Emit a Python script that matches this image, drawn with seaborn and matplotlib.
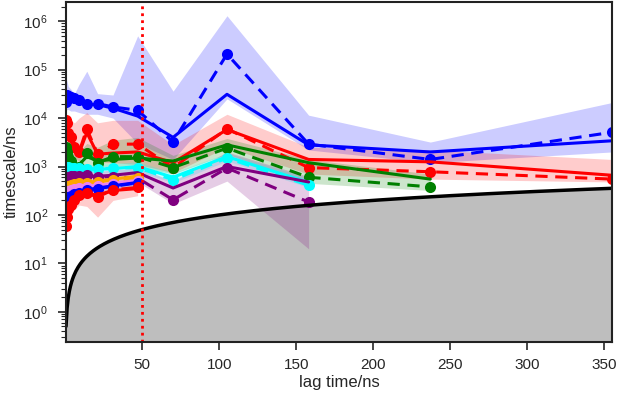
import numpy as np
import seaborn as sns
import matplotlib.pyplot as plt

# lag times (ns)
lags = [0.5, 1, 2, 3.5, 6, 9, 14, 21, 31, 47, 70, 105, 158, 237, 355]
colors = ['blue', 'red', 'green', 'cyan', 'purple', 'orange', 'violet', 'blue', 'red']
yticks = [1e0, 1e1, 1e2, 1e3, 1e4, 1e5, 1e6]
xticks = [50, 100, 150, 200, 250, 300, 350]

# process 1 (blue)
ml1 = [2.2e4, 3.0e4, 2.8e4, 2.7e4, 2.6e4, 2.4e4, 2.0e4, 2.0e4, 1.7e4, 1.45e4, 3.2e3, 2.1e5, 2.9e3, 1.4e3, 5.1e3]
mean1 = [2.0e4, 2.6e4, 2.5e4, 2.4e4, 2.3e4, 2.2e4, 1.9e4, 1.9e4, 1.6e4, 1.1e4, 4.0e3, 3.1e4, 2.8e3, 2.0e3, 3.4e3]
hi1 = [6.5e4, 6.0e4, 4.5e4, 4.0e4, 3.2e4, 5.0e4, 9.3e4, 3.2e4, 3.0e4, 5.0e5, 3.6e4, 1.3e6, 1.15e4, 3.2e3, 2.1e4]
lo1 = [1.3e4, 1.5e4, 1.5e4, 1.4e4, 1.4e4, 1.3e4, 1.2e4, 1.2e4, 1.0e4, 3.0e3, 1.4e3, 2.5e4, 2.2e3, 1.2e3, 2.0e3]

# process 2 (red)
ml2 = [9.0e3, 8.0e3, 5.0e3, 4.0e3, 2.5e3, 2.0e3, 6.0e3, 1.8e3, 2.9e3, 2.9e3, 9.5e2, 6.0e3, 9.5e2, 7.8e2, 5.5e2]
mean2 = [8.0e3, 7.0e3, 4.5e3, 3.5e3, 2.3e3, 1.9e3, 5.0e3, 1.8e3, 1.9e3, 2.0e3, 1.2e3, 5.8e3, 1.4e3, 1.25e3, 6.6e2]
hi2 = [1.2e4, 1.1e4, 1.0e4, 9.0e3, 8.0e3, 1.0e4, 1.3e4, 8.0e3, 9.0e3, 9.0e3, 2.8e3, 1.2e4, 2.5e3, 2.2e3, 1.4e3]
lo2 = [4.0e3, 3.5e3, 2.5e3, 2.0e3, 1.5e3, 1.3e3, 2.5e3, 1.2e3, 1.2e3, 1.1e3, 7.5e2, 2.5e3, 7.0e2, 5.5e2, 4.8e2]

# process 3 (green)
ml3 = [2.5e3, 2.0e3, 1.6e3, 1.3e3, 1.0e3, 1.0e3, 1.9e3, 1.2e3, 1.6e3, 1.6e3, 9.5e2, 2.4e3, 6.0e2, 3.8e2]
mean3 = [2.2e3, 1.8e3, 1.5e3, 1.3e3, 1.1e3, 1.1e3, 1.6e3, 1.3e3, 1.4e3, 1.5e3, 1.3e3, 2.8e3, 1.2e3, 5.5e2]
hi3 = [3.5e3, 3.0e3, 2.5e3, 2.2e3, 2.0e3, 2.0e3, 3.0e3, 2.5e3, 3.5e3, 4.0e3, 1.7e3, 3.8e3, 1.4e3, 7.0e2]
lo3 = [1.5e3, 1.2e3, 1.0e3, 9.0e2, 8.0e2, 8.0e2, 1.1e3, 9.0e2, 1.0e3, 1.0e3, 7.0e2, 1.8e3, 4.5e2, 3.2e2]

# process 4 (cyan)
ml4 = [1.0e3, 1.0e3, 9.7e2, 9.5e2, 9.3e2, 9.2e2, 9.0e2, 9.0e2, 9.2e2, 9.5e2, 5.3e2, 1.5e3, 4.1e2]
mean4 = [9.5e2, 9.5e2, 9.3e2, 9.2e2, 9.0e2, 8.9e2, 8.8e2, 8.8e2, 9.0e2, 1.0e3, 6.0e2, 1.6e3, 4.7e2]
hi4 = [1.2e3, 1.2e3, 1.15e3, 1.15e3, 1.1e3, 1.1e3, 1.1e3, 1.1e3, 1.15e3, 1.25e3, 7.5e2, 1.9e3, 5.8e2]
lo4 = [8.0e2, 8.0e2, 7.8e2, 7.7e2, 7.5e2, 7.4e2, 7.3e2, 7.3e2, 7.5e2, 8.0e2, 4.6e2, 1.3e3, 3.7e2]

# process 5 (purple)
ml5 = [5.5e2, 5.6e2, 6.0e2, 6.3e2, 6.5e2, 6.5e2, 6.7e2, 6.0e2, 6.2e2, 5.8e2, 2.05e2, 9.3e2, 1.85e2]
mean5 = [5.0e2, 5.2e2, 5.5e2, 5.8e2, 6.0e2, 6.2e2, 6.3e2, 6.3e2, 6.6e2, 7.5e2, 3.6e2, 1.0e3, 4.8e2]
hi5 = [6.5e2, 6.6e2, 7.0e2, 7.4e2, 7.6e2, 7.7e2, 8.0e2, 8.0e2, 8.4e2, 9.5e2, 5.0e2, 2.0e3, 6.2e2]
lo5 = [4.0e2, 4.2e2, 4.4e2, 4.6e2, 4.8e2, 4.9e2, 5.0e2, 4.9e2, 5.0e2, 4.8e2, 1.7e2, 5.0e2, 2.0e1]

# process 6 (orange)
ml6 = [3.4e2, 3.6e2, 3.9e2, 4.1e2, 4.3e2, 4.5e2, 4.6e2, 4.8e2, 5.2e2, 5.8e2]
mean6 = [3.5e2, 3.7e2, 4.0e2, 4.2e2, 4.4e2, 4.6e2, 4.7e2, 5.0e2, 5.5e2, 6.3e2]
hi6 = [4.1e2, 4.3e2, 4.6e2, 4.9e2, 5.1e2, 5.3e2, 5.5e2, 5.8e2, 6.4e2, 7.3e2]
lo6 = [3.0e2, 3.2e2, 3.4e2, 3.6e2, 3.8e2, 4.0e2, 4.1e2, 4.3e2, 4.7e2, 5.4e2]

# process 7 (violet)
ml7 = [2.7e2, 2.9e2, 3.1e2, 3.3e2, 3.5e2, 3.6e2, 3.8e2, 4.0e2, 4.3e2, 5.0e2]
mean7 = [2.8e2, 3.0e2, 3.2e2, 3.4e2, 3.6e2, 3.7e2, 3.9e2, 4.1e2, 4.5e2, 5.2e2]
hi7 = [3.2e2, 3.4e2, 3.7e2, 3.9e2, 4.1e2, 4.3e2, 4.5e2, 4.7e2, 5.2e2, 6.0e2]
lo7 = [2.4e2, 2.6e2, 2.8e2, 3.0e2, 3.1e2, 3.2e2, 3.4e2, 3.6e2, 3.9e2, 4.5e2]

# process 8 (blue)
ml8 = [1.8e2, 2.0e2, 2.3e2, 2.5e2, 2.7e2, 2.9e2, 3.2e2, 3.5e2, 3.9e2, 4.6e2]
mean8 = [1.9e2, 2.1e2, 2.4e2, 2.6e2, 2.8e2, 3.0e2, 3.3e2, 3.6e2, 4.0e2, 4.7e2]
hi8 = [2.2e2, 2.4e2, 2.8e2, 3.0e2, 3.2e2, 3.5e2, 3.8e2, 4.1e2, 4.6e2, 5.4e2]
lo8 = [1.6e2, 1.8e2, 2.0e2, 2.2e2, 2.4e2, 2.6e2, 2.8e2, 3.1e2, 3.4e2, 4.0e2]

# process 9 (red)
ml9 = [6.0e1, 9.0e1, 1.3e2, 1.6e2, 2.0e2, 2.6e2, 2.8e2, 2.35e2, 3.3e2, 3.7e2]
mean9 = [9.0e1, 1.1e2, 1.4e2, 1.7e2, 2.1e2, 2.5e2, 2.7e2, 2.6e2, 3.2e2, 3.5e2]
hi9 = [1.5e2, 1.7e2, 2.0e2, 2.3e2, 2.8e2, 3.2e2, 3.6e2, 3.5e2, 4.0e2, 4.3e2]
lo9 = [5.0e1, 6.0e1, 8.0e1, 1.0e2, 1.3e2, 1.6e2, 1.5e2, 9.0e1, 2.0e2, 2.5e2]

processes = [
    (ml1, mean1, lo1, hi1), (ml2, mean2, lo2, hi2), (ml3, mean3, lo3, hi3),
    (ml4, mean4, lo4, hi4), (ml5, mean5, lo5, hi5), (ml6, mean6, lo6, hi6),
    (ml7, mean7, lo7, hi7), (ml8, mean8, lo8, hi8), (ml9, mean9, lo9, hi9),
]

sns.set_style("ticks")
plt.rcParams['font.family'] = ['Liberation Sans', 'DejaVu Sans']
plt.rcParams['axes.linewidth'] = 1.5

fig = plt.figure(figsize=(6.17, 3.97), dpi=100)
ax = fig.add_axes([0.107, 0.139, 0.885, 0.856])
ax.set_yscale('log')
ymin, ymax = 0.24, 2.5e6

# lag time line y = x with grey region below
xl = np.linspace(lags[0], lags[-1], 500)
ax.fill_between(xl, ymin, xl, color='#bebebe', zorder=0)

for i, (ml, mean, lo, hi) in enumerate(processes):
    c = colors[i]
    x = lags[:len(ml)]
    ax.fill_between(x, lo, hi, color=c, alpha=0.2, lw=0)
    sns.lineplot(x=x, y=mean, color=c, lw=2.2, ax=ax)
    sns.lineplot(x=x, y=ml, color=c, lw=2.2, linestyle=(0, (4, 2.5)),
                 marker='o', markersize=8, markeredgecolor=c,
                 markeredgewidth=0, ax=ax)

sns.lineplot(x=xl, y=xl, color='black', lw=2.5, ax=ax)
ax.axvline(50, color='red', ls=(0, (1, 1.5)), lw=2)

ax.set_xlim(lags[0], lags[-1])
ax.set_ylim(ymin, ymax)
ax.set_xticks(xticks)
ax.set_yticks(yticks)
ax.tick_params(axis='both', which='major', direction='out', length=6, width=1.2,
               labelsize=11)
ax.tick_params(axis='x', which='major', pad=6)
ax.tick_params(axis='y', which='major', pad=7)
ax.tick_params(axis='y', which='minor', direction='out', length=3.5, width=0.8)
ax.set_xlabel('lag time/ns', fontsize=12, labelpad=2)
ax.set_ylabel('timescale/ns', fontsize=12, labelpad=3)
for s in ax.spines.values():
    s.set_color('#222222')

fig.savefig('out.png', dpi=100)
